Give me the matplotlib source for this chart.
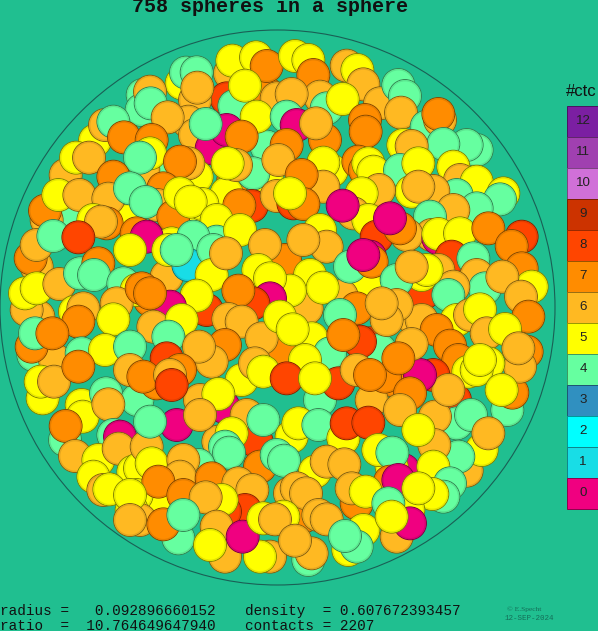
import matplotlib
matplotlib.use("Agg")
import matplotlib.pyplot as plt
from matplotlib.patches import Circle, Rectangle

W, H = 598, 631
BG = "#20BF90"
ctc_levels = [12, 11, 10, 9, 8, 7, 6, 5, 4, 3, 2, 1, 0]
ctc_colors = {12: "#7B1FA2", 11: "#A040B0", 10: "#D070D8", 9: "#CC3300", 8: "#FF4500", 7: "#FF8C00",
              6: "#FFB922", 5: "#FFFF00", 4: "#66FFA0", 3: "#3090C0", 2: "#00FFFF", 1: "#18DDE6", 0: "#F00080"}
title_text = "758 spheres in a sphere"
line1a = "radius =   0.092896660152"
line1b = "density  = 0.607672393457"
line2a = "ratio  =  10.764649647940"
line2b = "contacts = 2207"

# visible spheres, back to front: (x, y, contact count), 3x crop units
q1_spheres = [
 (480,470,4),(600,600,5),(430,450,6),(700,480,7),(800,380,4),(800,470,5),(230,590,4),(390,600,5),
 (800,220,7),(830,235,6),(690,160,6),(697,122,5),(768,112,5),(800,138,7),(680,235,8),(703,258,4),(735,197,5),(770,290,5),
 (545,190,5),(585,240,6),(558,158,4),(590,157,4),(592,203,6),
 (428,225,4),(425,270,4),(450,215,6),(452,250,4),
 (565,305,6),(585,345,6),(635,385,0),(680,330,0),(725,350,7),(503,292,6),(617,312,4),
 (285,362,5),(315,315,6),(340,305,4),(372,352,7),
 (455,360,7),(450,400,5),(420,413,4),
 (197,465,6),(228,413,5),(267,413,6),
 (340,470,7),(590,470,5),(565,430,6),(540,425,7),
 (680,520,5),(760,460,4),(708,435,6),(683,430,5),(830,422,6),
 (140,600,6),(135,572,7),(175,525,5),(238,525,6),(325,536,6),
 (320,610,7),(280,600,5),(303,605,6),
 (490,505,7),(390,505,4),(472,555,6),(437,546,4),
 (520,590,7),(540,520,5),(607,552,5),(572,545,5),
 (755,558,8),(718,556,7),(830,528,6),
 (650,600,5),(715,630,5),(578,642,4),(650,665,4),(677,700,6),(795,677,6),
 (410,640,7),(438,652,0),(388,690,5),
 (515,670,5),(532,692,4),
 (110,740,6),(92,715,7),(110,675,6),(160,648,4),(234,652,8),
 (565,735,1),(497,770,6),(635,765,5),(765,760,5),(808,775,5),(713,812,7),
 (515,835,0),(570,810,5),(590,825,5),
]
q2_spheres = [
 (45,108,5),(85,120,5),(100,165,7),
 (200,137,6),(232,150,5),(250,193,6),
 (120,230,6),(35,222,6),
 (300,250,6),(355,195,4),(375,228,4),(363,278,6),
 (140,265,4),(188,237,5),
 (20,290,4),(50,315,0),(135,360,7),(108,310,6),
 (255,300,7),(257,335,7),
 (440,320,4),(480,300,6),(475,282,7),
 (590,390,4),(560,375,4),(490,372,4),
 (370,375,5),(395,378,6),
 (20,375,7),(-5,420,6),
 (155,452,5),(130,428,5),
 (235,425,7),(255,450,7),(265,430,5),(280,455,5),
 (360,450,4),(415,430,5),
 (520,440,5),(540,480,6),(590,485,5),
 (670,520,5),(660,538,4),(530,525,4),
 (460,513,6),(395,515,5),(415,500,6),
 (130,500,6),(65,465,7),(40,550,8),(70,552,7),(30,520,5),
 (297,510,6),(245,520,5),
 (220,580,6),(265,600,5),(188,557,0),
 (290,650,8),(375,640,6),(360,625,7),(333,595,0),
 (715,650,8),(627,622,7),(695,678,7),
 (590,565,4),(520,570,6),(545,635,5),
 (450,590,4),(455,645,6),(475,655,0),(475,640,5),
 (120,630,5),(135,680,6),(70,660,6),(10,720,7),
 (280,720,7),(225,745,4),(245,705,0),
 (520,720,8),(580,714,4),
 (600,755,6),(725,775,7),(745,800,5),(725,830,6),(665,770,6),
 (350,770,4),(465,760,6),(430,770,5),(395,740,6),
 (520,790,6),(505,825,4),
 (85,770,5),(30,810,5),(128,803,5),(180,825,6),
 (260,800,5),(307,840,6),(360,850,6),(440,820,8),
]
q3_spheres = [
 (600,300,6),(560,590,7),(490,610,5),
 (85,-20,5),(80,25,6),(115,50,6),
 (100,165,4),(85,130,7),(105,100,4),(157,100,7),
 (165,180,6),(245,160,4),(235,65,7),(315,150,5),(393,145,4),(380,208,6),(228,212,7),(340,60,5),
 (128,295,5),(122,245,5),(162,245,6),
 (245,315,5),(318,280,4),(412,300,4),(248,350,5),(325,313,6),
 (195,420,4),(197,378,7),
 (340,405,4),(360,410,0),(445,435,6),(225,468,6),(295,480,5),(356,446,6),
 (450,0,7),(510,0,0),(615,30,8),(590,-10,5),
 (470,80,6),(540,70,5),(502,112,4),(500,175,8),
 (675,140,7),(635,185,6),(597,142,6),
 (470,250,7),(535,220,7),(510,235,6),(513,255,8),
 (690,60,6),(725,65,6),(780,115,6),
 (725,250,5),(765,200,6),(790,215,5),
 (670,320,0),(658,282,5),(605,338,6),(527,376,0),(450,363,4),
 (715,400,5),(757,360,6),(790,360,4),
 (770,430,8),(655,425,6),(675,445,4),(688,460,4),
 (775,495,7),(830,470,4),(845,480,4),
 (400,515,5),(420,505,5),(590,495,4),(548,480,6),
 (280,530,5),(310,570,6),(328,568,5),(625,555,6),(475,546,7),(410,585,5),
 (395,630,5),(420,660,6),(490,673,7),(535,715,4),(550,646,4),
 (675,625,8),(670,597,5),(618,592,6),
 (728,555,6),(757,570,6),(735,610,7),
 (800,660,5),(825,658,6),
 (680,760,6),(640,680,6),(630,735,5),(795,770,6),(780,767,5),(727,710,0),
]
q4_spheres = [
 (720,-10,6),(505,-10,4),(30,-10,5),(45,30,6),(230,30,7),(310,10,6),(350,15,6),(320,60,6),
 (175,60,4),(150,165,4),(90,115,5),(40,88,5),(300,150,4),(245,125,8),(190,104,7),
 (570,40,6),(745,50,7),(630,90,6),(602,30,5),(675,85,5),
 (470,85,7),(370,170,7),(400,55,6),(387,132,6),(508,137,7),
 (460,230,8),(413,225,0),(735,150,7),(717,145,6),(720,195,6),
 (575,210,5),(590,205,5),(600,180,5),
 (682,330,4),(697,278,7),(660,268,5),
 (335,240,7),(225,210,6),(270,225,7),
 (65,185,5),(165,262,8),(20,245,8),(120,300,4),(105,233,5),
 (275,300,6),(362,322,6),(388,280,7),
 (525,300,8),(507,285,6),(530,370,4),(573,345,4),
 (465,350,6),(412,375,5),
 (560,512,6),(605,450,5),(625,400,6),(535,470,4),
 (185,410,5),(20,410,5),(70,368,5),(115,375,4),(218,370,8),(265,368,8),
 (340,500,7),(370,510,0),(335,490,5),(297,450,5),(338,460,4),(463,435,6),
 (460,500,5),(510,550,4),(490,590,4),(457,582,5),(411,553,5),
 (105,500,5),(0,482,4),(135,483,6),(193,492,6),
 (30,580,6),(78,580,6),(5,655,6),(70,650,7),
 (215,560,6),(230,610,7),(257,575,5),
 (320,610,4),(360,690,6),(370,670,0),(385,630,5),(337,650,5),
 (140,658,6),(205,750,5),(245,690,5),(232,738,4),(193,708,4),
 (85,780,4),(95,757,6),(42,722,6),
]
left_spheres = [
 (92,55,7),(110,15,6),(160,-12,4),(235,-8,8),(80,210,6),(75,160,5),(110,145,5),(178,132,6),
 (240,100,4),(295,70,7),(282,105,4),
 (370,130,4),(410,150,5),(435,140,7),(450,158,7),
 (225,215,5),(350,190,6),(250,205,6),(235,245,7),(340,238,5),
 (95,320,7),(105,280,4),(157,280,7),
 (245,340,4),(315,330,5),(393,320,4),(380,385,6),(235,380,7),
 (510,195,0),(470,270,6),(540,250,5),(502,290,4),(500,350,8),(590,320,6),
]
right_spheres = [
 (110,45,6),(90,25,7),(60,-5,0),(205,55,0),(205,42,5),(270,40,5),(355,25,7),
 (455,50,8),(425,78,7),(245,110,8),(310,115,4),
 (20,130,7),(0,110,0),(65,180,4),(160,220,8),
 (205,150,6),(155,165,5),(125,138,6),
 (320,165,6),(345,205,4),(455,145,7),(485,200,5),(397,170,6),(453,230,6),
 (250,200,6),(235,225,4),
 (85,258,6),(45,300,6),(40,250,6),
 (475,290,7),(260,300,5),(300,285,6),(330,268,5),
 (350,340,6),(405,327,5),
 (155,300,6),(200,330,7),(240,377,7),
 (470,395,7),(450,440,6),(445,385,6),
 (265,420,7),(355,430,5),(295,455,5),(320,450,5),(330,420,5),
 (190,465,8),(140,465,0),(95,410,7),(118,372,6),
 (0,370,8),(25,395,4),(0,465,7),(45,470,7),(120,510,7),(235,510,6),(395,510,5),
]
center_spheres = [
 (190,50,4),(330,30,5),(50,50,0),(110,170,6),(175,135,1),(115,90,5),(140,90,4),(0,90,5),(250,90,4),(245,165,5),(288,100,6),
 (465,120,7),(405,75,6),(590,80,6),(520,60,6),
 (540,165,5),(385,150,5),(530,265,6),(480,212,5),(420,175,5),(635,228,6),(578,203,5),
 (660,140,4),(725,125,7),(700,105,0),(890,150,5),(800,180,4),(845,140,6),
 (420,235,0),(370,250,8),(325,212,7),
 (230,270,8),(185,220,5),(200,227,5),
 (35,205,7),(120,260,0),(60,220,7),
 (295,297,6),(335,305,6),
 (680,265,7),(630,285,4),
 (450,395,7),(395,355,6),(545,355,5),(450,290,5),(488,328,5),
 (750,390,4),(600,400,4),(525,420,5),(690,365,8),(640,345,7),
 (70,320,6),(155,300,5),(115,350,4),
 (285,375,7),(245,425,6),(207,380,6),
 (870,465,0),(845,372,6),(805,415,7),
 (800,255,6),(770,300,6),(755,250,6),
 (0,380,4),(0,450,6),
 (110,415,8),(40,470,7),(150,450,7),(120,465,6),(125,495,8),
 (335,480,5),(270,520,5),(375,430,6),(400,455,5),
 (470,475,8),(625,490,8),(555,475,5),
 (680,450,6),(720,465,7),(840,510,7),
]
lower_spheres = [
 (840,-20,7),(810,30,6),(265,-18,5),(50,140,6),(140,75,0),(60,65,4),(210,45,6),
 (350,45,6),(380,125,8),(305,100,5),(400,60,4),
 (485,110,5),(505,70,5),(565,75,4),
 (640,115,5),(650,70,8),(715,68,8),
 (865,90,5),(785,200,5),(745,150,5),(787,158,4),
 (780,245,7),(805,240,0),
 (285,140,4),(297,158,4),
 (390,200,7),(440,165,4),(462,182,4),
 (205,195,4),(65,190,5),(160,180,6),
 (150,230,6),(85,245,7),(0,285,5),
 (555,215,5),(590,185,6),(643,193,6),
 (500,265,6),(528,280,6),
 (680,310,7),(665,265,6),(707,275,5),
 (245,235,7),(325,250,6),(367,270,6),
 (345,330,8),(285,335,8),(160,285,7),(275,300,5),(227,292,6),
 (0,360,6),(145,415,4),(100,373,7),(160,345,4),
 (260,380,6),(285,470,6),(420,470,6),(390,470,5),(240,435,5),(338,410,0),
 (460,350,5),(400,355,5),(435,358,6),
 (545,460,6),(495,422,6),(565,345,6),(590,358,6),
 (700,390,5),(680,440,4),(645,408,4),
 (775,310,4),(865,265,5),(800,410,6),(840,370,0),(785,350,5),
]
groups = [
 (q1_spheres, 0, 20), (q2_spheres, 280, 20), (q3_spheres, 0, 300), (q4_spheres, 280, 300),
 (left_spheres, 0, 240), (right_spheres, 370, 220), (center_spheres, 130, 220), (lower_spheres, 130, 400),
]
CROP_SCALE = 3.0
RADIUS = 16.4
SAME_SPHERE_DIST = 6.5   # the same sphere read in two overlapping crops

def darker(hexcol, f):
    r, g, b = matplotlib.colors.to_rgb(hexcol)
    return (r * f, g * f, b * f)

placed = []
for spheres, ox, oy in groups:
    for zx, zy, c in spheres:
        x, y = ox + zx / CROP_SCALE, oy + zy / CROP_SCALE
        placed = [s for s in placed
                  if not (s[2] == c and (s[0] - x) ** 2 + (s[1] - y) ** 2 < SAME_SPHERE_DIST ** 2)]
        placed.append((x, y, c))

fig = plt.figure(figsize=(W / 100, H / 100), dpi=100, facecolor=BG)
ax = fig.add_axes([0, 0, 1, 1])
ax.set_xlim(0, W)
ax.set_ylim(H, 0)
ax.axis("off")

ax.add_patch(Circle((277.5, 307.5), 277.5, fc="none", ec="#1A5F55", lw=0.8, zorder=1))

z = 2.0
for x, y, c in placed:
    col = ctc_colors[c]
    ax.add_patch(Circle((x, y), RADIUS, fc=col, ec=darker(col, 0.5), lw=0.75, zorder=z))
    ax.add_patch(Circle((x, y), RADIUS - 1.1, fc="none", ec=darker(col, 0.9), lw=1.0, zorder=z + 0.0001))
    z += 0.001

bar_x, bar_top, bar_w, bar_h = 567, 105.5, 31, 31.0
for i, lev in enumerate(ctc_levels):
    col = ctc_colors[lev]
    y0 = bar_top + i * bar_h
    ax.add_patch(Rectangle((bar_x, y0), bar_w, bar_h, fc=col, ec=darker(col, 0.6), lw=0.7, zorder=10))
    ax.text(bar_x + 16, y0 + bar_h / 2 + 0.3, str(lev), ha="center", va="center", fontsize=9.6,
            family="Liberation Sans", color="#222222", zorder=11)
ax.text(566, 91.5, "#ctc", ha="left", va="center", fontsize=12, family="Liberation Sans", color="#111111", zorder=11)

mono = dict(family="Liberation Mono", color="#111111", va="baseline", ha="left")
ax.text(132, 12.5, title_text, fontsize=14.4, fontweight="bold", **mono)
ax.text(0, 615, line1a, fontsize=10.35, **mono)
ax.text(245, 615, line1b, fontsize=10.35, **mono)
ax.text(0, 630, line2a, fontsize=10.35, **mono)
ax.text(245, 630, line2b, fontsize=10.35, **mono)
ax.text(507, 610.5, "© E.Specht", fontsize=5.4, family="Liberation Serif", color="#146E58", va="baseline")
ax.text(505, 620.5, "12-SEP-2024", fontsize=5.4, family="Liberation Mono", color="#146E58", va="baseline")

fig.savefig("out.png", dpi=100, facecolor=BG)
